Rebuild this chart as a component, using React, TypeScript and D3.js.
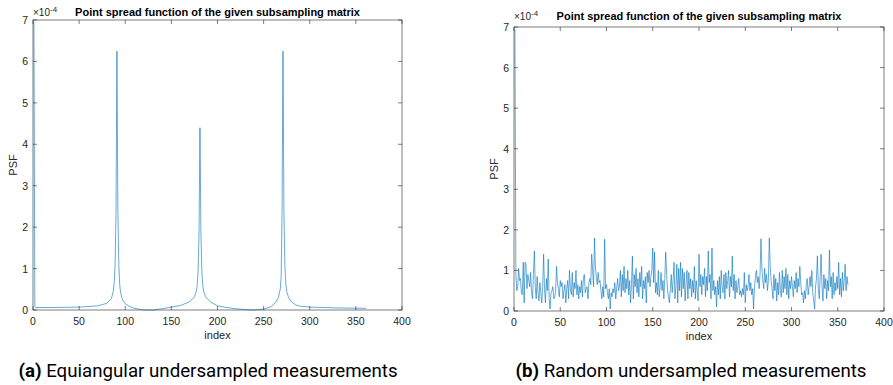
import React from "react";
import * as d3 from "d3";

// Equiangular PSF: sparse samples [index, value ×1e-4]
const equiIndex = [1, 2, 3, 20, 50, 70, 80, 85, 87, 88, 89, 90, 91, 92, 93, 94, 95, 97, 100, 105, 110, 120, 130, 140, 150, 160, 170, 175, 177, 178, 179, 180, 181, 182, 183, 184, 185, 187, 192, 200, 210, 220, 230, 240, 250, 258, 263, 266, 268, 269, 270, 271, 272, 273, 274, 275, 277, 280, 285, 290, 300, 330, 361];
const equiValue = [6.95, 0.08, 0.06, 0.06, 0.07, 0.1, 0.16, 0.28, 0.45, 0.65, 1.1, 2.4, 6.25, 2.4, 1.1, 0.6, 0.42, 0.25, 0.15, 0.08, 0.04, 0.0, 0.0, 0.03, 0.07, 0.11, 0.2, 0.32, 0.45, 0.6, 0.95, 1.9, 4.4, 1.9, 0.95, 0.6, 0.45, 0.32, 0.2, 0.1, 0.06, 0.03, 0.01, 0.0, 0.02, 0.08, 0.18, 0.3, 0.5, 0.8, 2.4, 6.25, 2.4, 1.1, 0.65, 0.45, 0.3, 0.2, 0.12, 0.09, 0.07, 0.05, 0.04];

// Random PSF: one value per index 1..361 (×1e-4)
const randomValue = [
  6.95, 0.9, 0.5, 0.6, 1.05, 0.75, 0.8, 0.45, 0.4, 1.2,
  0.2, 1.2, 1.15, 0.55, 0.9, 0.75, 0.6, 0.95, 0.45, 0.3,
  0.9, 1.48, 0.6, 0.3, 0.85, 0.45, 0.25, 0.7, 0.45, 0.2,
  0.6, 1.4, 0.55, 0.2, 0.8, 0.5, 1.28, 0.3, 0.05, 0.45,
  0.5, 0.6, 0.3, 0.35, 0.5, 1.1, 0.7, 0.55, 0.35, 0.75,
  0.6, 0.7, 0.3, 0.5, 0.65, 0.2, 0.55, 0.75, 0.3, 1.0,
  0.55, 0.4, 0.95, 0.35, 0.7, 0.55, 1.0, 0.4, 0.65, 0.3,
  0.6, 0.45, 0.75, 0.35, 0.8, 0.9, 0.45, 0.55, 0.6, 0.3,
  0.7, 0.8, 0.65, 1.4, 1.0, 0.6, 1.8, 1.1, 0.85, 0.65,
  0.95, 0.7, 0.75, 0.5, 0.3, 0.6, 0.35, 1.77, 0.55, 0.65,
  0.45, 0.3, 0.55, 0.05, 0.45, 0.35, 0.55, 0.45, 0.7, 0.3,
  0.55, 0.8, 0.5, 0.6, 1.0, 0.35, 0.9, 0.5, 1.1, 0.45,
  0.8, 0.55, 1.0, 0.4, 0.75, 0.2, 0.65, 1.35, 0.3, 0.9,
  0.6, 1.05, 0.45, 0.8, 0.35, 0.95, 0.6, 1.1, 0.3, 0.75,
  0.55, 0.85, 0.2, 0.95, 0.7, 1.0, 0.6, 0.85, 1.0, 1.55,
  0.7, 1.45, 0.45, 0.7, 0.4, 1.0, 0.35, 0.6, 0.95, 0.5,
  0.75, 0.3, 0.8, 1.45, 0.9, 0.5, 0.35, 0.2, 0.55, 0.9,
  0.45, 0.75, 1.2, 0.3, 0.6, 1.15, 0.2, 1.05, 0.5, 1.2,
  0.35, 1.05, 0.55, 0.95, 0.25, 0.7, 1.0, 0.3, 0.95, 0.55,
  0.8, 0.35, 0.75, 0.45, 1.1, 0.3, 0.75, 0.5, 0.25, 1.4,
  0.6, 0.9, 0.4, 0.85, 0.65, 1.05, 0.35, 0.85, 0.5, 1.48,
  0.7, 0.9, 0.3, 1.55, 0.5, 0.75, 0.4, 0.6, 0.1, 0.75,
  0.4, 0.85, 0.3, 1.0, 0.6, 0.45, 0.9, 0.3, 0.95, 0.55,
  0.75, 1.0, 0.35, 0.85, 0.6, 1.35, 0.5, 0.9, 0.3, 0.75,
  0.45, 0.6, 0.8, 0.4, 0.5, 0.35, 0.55, 0.4, 0.95, 0.2,
  0.65, 0.5, 0.6, 0.9, 0.5, 0.7, 0.4, 0.55, 0.05, 0.6,
  0.85, 1.0, 0.7, 0.85, 0.55, 0.9, 1.78, 1.05, 0.75, 0.55,
  1.05, 0.7, 0.9, 0.5, 0.75, 1.8, 1.1, 0.75, 0.55, 0.3,
  0.9, 0.5, 0.8, 0.25, 0.7, 0.4, 0.95, 0.5, 0.35, 1.0,
  0.45, 0.85, 0.55, 1.05, 0.4, 0.9, 0.3, 0.75, 0.55, 0.85,
  0.6, 0.35, 0.75, 0.55, 0.95, 0.45, 0.8, 0.6, 1.1, 0.7,
  0.4, 0.45, 0.2, 0.5, 0.3, 0.65, 0.8, 0.4, 0.6, 0.85,
  0.6, 1.0, 0.45, 0.25, 0.05, 0.6, 0.8, 1.36, 0.55, 0.3,
  0.85, 1.4, 0.6, 0.25, 0.9, 0.55, 0.8, 0.3, 0.75, 0.5,
  1.5, 0.6, 0.85, 0.3, 0.95, 0.4, 0.7, 0.5, 0.85, 0.55,
  1.2, 0.4, 0.8, 0.35, 0.95, 0.5, 0.75, 1.15, 0.5, 0.85,
  0.65,
];

const xTicks = [0, 50, 100, 150, 200, 250, 300, 350, 400];
const yTicks = [0, 1, 2, 3, 4, 5, 6, 7];
const titleText = "Point spread function of the given subsampling matrix";
const captions = ["Equiangular undersampled measurements", "Random undersampled measurements"];
const captionTags = ["(a)", "(b)"];

const AX = "#262626";
const LINE = "#0072BD";
const FONT = "'Liberation Sans', Arial, Helvetica, sans-serif";

type Panel = {
  left: number; right: number; top: number; bottom: number;
  pts: [number, number][];
  caption: string; tag: string; captionX: number; titleY: number;
};

function Chart({ p }: { p: Panel }) {
  const x = d3.scaleLinear().domain([0, 400]).range([p.left, p.right]);
  const y = d3.scaleLinear().domain([0, 7]).range([p.bottom, p.top]);
  const line = d3.line<[number, number]>().x(d => x(d[0])).y(d => y(d[1]));
  const cx = (p.left + p.right) / 2;
  const cy = (p.top + p.bottom) / 2;
  const tl = 4;
  return (
    <g>
      <defs>
        <clipPath id={`clip-${p.left}`}>
          <rect x={p.left} y={p.top} width={p.right - p.left} height={p.bottom - p.top + 1} />
        </clipPath>
      </defs>
      <path d={line(p.pts) || ""} fill="none" stroke={LINE} strokeWidth={0.6} clipPath={`url(#clip-${p.left})`} />
      <rect x={p.left} y={p.top} width={p.right - p.left} height={p.bottom - p.top} fill="none" stroke={AX} strokeWidth={0.6} />
      {xTicks.map(t => (
        <g key={"x" + t}>
          <line x1={x(t)} x2={x(t)} y1={p.bottom} y2={p.bottom - tl} stroke={AX} strokeWidth={0.6} />
          <line x1={x(t)} x2={x(t)} y1={p.top} y2={p.top + tl} stroke={AX} strokeWidth={0.6} />
          <text x={x(t)} y={p.bottom + 15} textAnchor="middle" fontSize={10.5} fill={AX} fontFamily={FONT}>{t}</text>
        </g>
      ))}
      {yTicks.map(t => (
        <g key={"y" + t}>
          <line x1={p.left} x2={p.left + tl} y1={y(t)} y2={y(t)} stroke={AX} strokeWidth={0.6} />
          <line x1={p.right} x2={p.right - tl} y1={y(t)} y2={y(t)} stroke={AX} strokeWidth={0.6} />
          <text x={p.left - 5} y={y(t) + 4} textAnchor="end" fontSize={10.5} fill={AX} fontFamily={FONT}>{t}</text>
        </g>
      ))}
      <text x={p.left} y={p.titleY} fontSize={10} fill={AX} fontFamily={FONT}>
        ×10<tspan dy={-4} fontSize={8}>-4</tspan>
      </text>
      <text x={cx} y={p.titleY} textAnchor="middle" fontSize={11} fontWeight="bold" fill="#000" fontFamily={FONT}>{titleText}</text>
      <text x={cx} y={p.bottom + 29} textAnchor="middle" fontSize={11} fill={AX} fontFamily={FONT}>index</text>
      <text transform={`translate(${p.left - 16},${cy}) rotate(-90)`} textAnchor="middle" fontSize={11} fill={AX} fontFamily={FONT}>PSF</text>
      <text x={p.captionX} y={377} textAnchor="middle" fontSize={18.7} fill="#000" fontFamily="Roboto, 'Noto Sans', sans-serif">
        <tspan fontWeight="bold">{p.tag}</tspan> {p.caption}
      </text>
    </g>
  );
}

export default function App() {
  const equiPts: [number, number][] = equiIndex.map((ix, i) => [ix, equiValue[i]]);
  const randPts: [number, number][] = randomValue.map((v, i) => [i + 1, v]);
  const panels: Panel[] = [
    { left: 33, right: 402, top: 20, bottom: 310, pts: equiPts, caption: captions[0], tag: captionTags[0], captionX: 208, titleY: 16 },
    { left: 514, right: 884, top: 27, bottom: 311, pts: randPts, caption: captions[1], tag: captionTags[1], captionX: 691, titleY: 20 },
  ];
  return (
    <div style={{ position: "absolute", left: 0, top: 0 }}>
      <svg width={893} height={385} style={{ display: "block", background: "#fff" }}>
        {panels.map((p, i) => <Chart key={i} p={p} />)}
      </svg>
    </div>
  );
}
